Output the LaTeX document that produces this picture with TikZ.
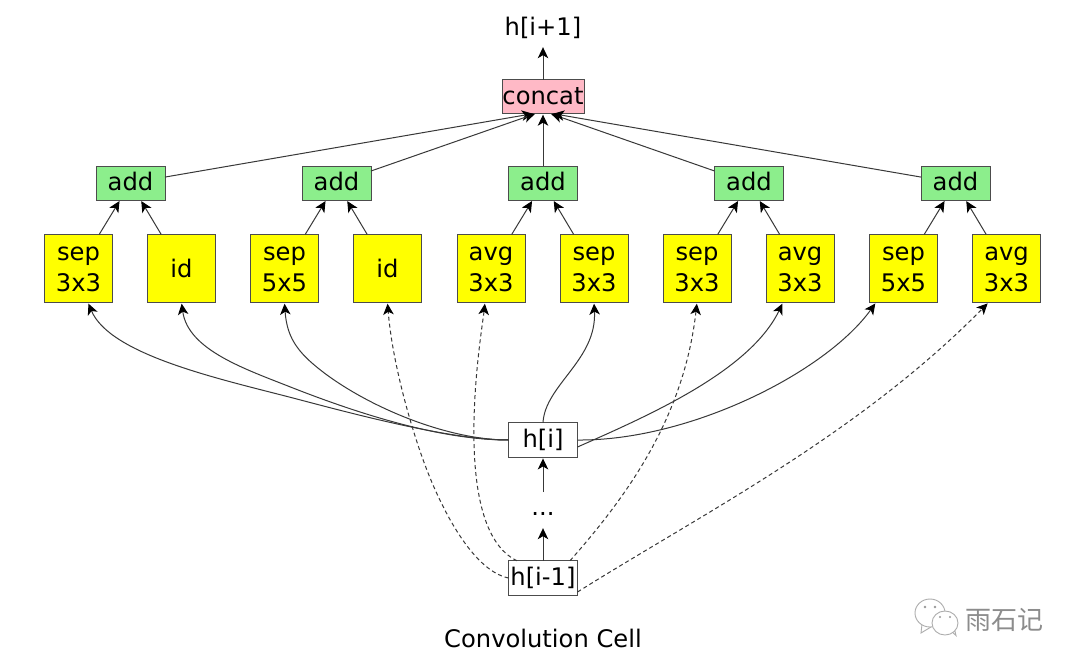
\documentclass[tikz,border=0pt]{standalone}
\usepackage{fontspec}
\setmainfont{DejaVu Sans}
\newfontfamily\cjkwm{Noto Sans CJK SC}
\usetikzlibrary{arrows.meta}
\definecolor{addgreen}{HTML}{8CEE8C}
\definecolor{catpink}{HTML}{FFB9C6}
\definecolor{opyellow}{RGB}{255,255,0}
\newcommand{\twol}[2]{\rule{0pt}{15.6pt}#1\\[1.5pt]#2}
\tikzset{
  every node/.style={font=\fontsize{24.2}{29}\selectfont, inner sep=0pt, outer sep=0pt, align=center},
  box/.style={draw=black!70, line width=1pt},
  opbox/.style={box, fill=opyellow, minimum width=68pt, minimum height=68pt},
  addbox/.style={box, fill=addgreen, minimum width=69pt, minimum height=34pt, text depth=4pt},
  catbox/.style={box, fill=catpink, minimum width=82pt, minimum height=34pt, text depth=1.5pt},
  statebox/.style={box, fill=white, minimum width=69pt, minimum height=34.5pt},
  conn/.style={draw=black!78, line width=1pt, shorten >=1.2pt, -{Stealth[length=11pt,width=10.5pt,inset=3pt,black]}},
  dconn/.style={conn, dash pattern=on 4pt off 3pt},
  wmline/.style={draw=black!32, line width=0.9pt, fill=white},
}
\begin{document}
\begin{tikzpicture}[x=1pt,y=-1pt]
\useasboundingbox (0,0) rectangle (1080,667);
\fill[white] (0,0) rectangle (1080,667);
\node[minimum height=36pt] (out) at (543,28) {h[i+1]};
\node[catbox] (cat) at (543,96.5) {concat};
\node[addbox] (a1) at (130.5,183) {add};
\node[addbox] (a2) at (336.5,183) {add};
\node[addbox] (a3) at (543,183) {add};
\node[addbox] (a4) at (749,183) {add};
\node[addbox] (a5) at (955.5,183) {add};
\node[opbox] (o1) at (78.5,268.5) {\twol{sep}{3x3}};
\node[opbox] (o2) at (181.5,268.5) {id};
\node[opbox] (o3) at (284.5,268.5) {\twol{sep}{5x5}};
\node[opbox] (o4) at (387.5,268.5) {id};
\node[opbox] (o5) at (491,268.5) {\twol{avg}{3x3}};
\node[opbox] (o6) at (594,268.5) {\twol{sep}{3x3}};
\node[opbox] (o7) at (697,268.5) {\twol{sep}{3x3}};
\node[opbox] (o8) at (800,268.5) {\twol{avg}{3x3}};
\node[opbox] (o9) at (903.5,268.5) {\twol{sep}{5x5}};
\node[opbox] (o10) at (1006.5,268.5) {\twol{avg}{3x3}};
\node[statebox] (hi) at (543,440) {h[i]};
\node[minimum height=35pt] (dots) at (543,509.5) {\smash{\raisebox{-6pt}{...}}};
\node[statebox] (him) at (543,578) {h[i-1]};
\node (title) at (543,638) {Convolution Cell};

\draw[conn] (cat) -- (out.south);
\foreach \a/\dx in {a1/-9,a2/-7,a3/0,a4/7,a5/9}
  \draw[conn] (\a) -- ([xshift=\dx pt]cat.south);
\foreach \o/\a in {o1/a1,o2/a1,o3/a2,o4/a2,o5/a3,o6/a3,o7/a4,o8/a4,o9/a5,o10/a5}
  \draw[conn] (\o) -- (\a);
\draw[conn] (him) -- (dots);
\draw[conn] (dots) -- (hi);

\draw[conn] (hi.west) .. controls (450,440) and (350,413) .. (293,398)
   .. controls (220,379) and (110,355) .. ([xshift=9.5pt]o1.south);
\draw[conn] (hi.west) .. controls (455,440) and (385,424) .. (293,388)
   .. controls (245,369) and (188,350) .. (o2.south);
\draw[conn] (hi.west) .. controls (450,440) and (375,410) .. (327,375)
   .. controls (300,355) and (287,340) .. (o3.south);
\draw[conn] (hi.north) .. controls (545,385) and (597,360) .. (o6.south);
\draw[conn] ([yshift=-7pt]hi.east) .. controls (650,415) and (750,371) .. ([xshift=-17pt]o8.south);
\draw[conn] (hi.east) .. controls (690,441) and (826,372) .. ([xshift=-27.5pt]o9.south);

\draw[dconn] (him.west) .. controls (470,570) and (438,500) .. (425,465)
   .. controls (410,425) and (392,360) .. (o4.south);
\draw[dconn] ([xshift=-26pt]him.north) .. controls (448,528) and (482,330) .. ([xshift=-6pt]o5.south);
\draw[dconn] ([xshift=27pt]him.north) .. controls (628,495) and (684,417) .. (o7.south);
\draw[dconn] ([yshift=-14pt]him.east) .. controls (700,515) and (858,435) .. ([xshift=-18pt]o10.south);

% watermark
\draw[wmline] (922,624) -- (921,633) -- (931,627);
\draw[wmline] (930,613) ellipse (15pt and 14pt);
\draw[wmline] (950,630) -- (956,635.5) -- (954,627);
\draw[wmline] (945,623) ellipse (13pt and 12pt);
\fill[black!40] (925,607) circle (1.3pt) (935,607) circle (1.3pt) (940,617) circle (1.2pt) (950,617) circle (1.2pt);
\node[text=black!45, font=\cjkwm\fontsize{26}{28}\selectfont] (wm) at (1004,620) {雨石记};
\end{tikzpicture}
\end{document}
